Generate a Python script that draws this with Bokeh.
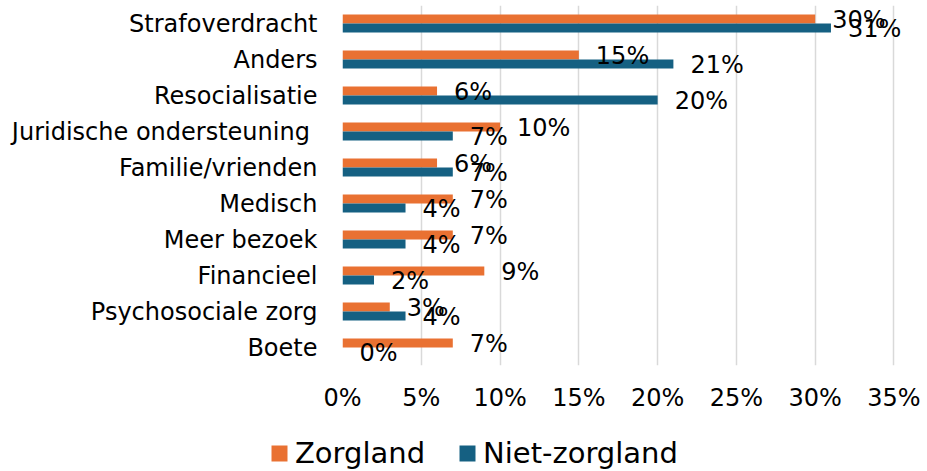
from bokeh.plotting import figure
from bokeh.layouts import column
from bokeh.models import (ColumnDataSource, FactorRange, Range1d, FixedTicker,
                          LabelSet, Legend, LegendItem)
from bokeh.transform import dodge
from bokeh.core.properties import value
from bokeh.embed import file_html
from bokeh.resources import INLINE

# ---- data ----
categories = ["Strafoverdracht", "Anders", "Resocialisatie",
              "Juridische ondersteuning ", "Familie/vrienden", "Medisch",
              "Meer bezoek", "Financieel", "Psychosociale zorg", "Boete"]
zorgland = [30, 15, 6, 10, 6, 7, 7, 9, 3, 7]
niet_zorgland = [31, 21, 20, 7, 7, 4, 4, 2, 4, 0]
x_ticks = [0, 5, 10, 15, 20, 25, 30, 35]
series_names = ["Zorgland", "Niet-zorgland"]

ORANGE = "#E97132"
BLUE = "#156082"
FONT = "DejaVu Sans"

source = ColumnDataSource(dict(
    cat=categories,
    z=zorgland,
    n=niet_zorgland,
    zl=[f"{v}%" for v in zorgland],
    nl=[f"{v}%" for v in niet_zorgland],
))

# ---- main chart ----
p = figure(width=927, height=415,
           y_range=FactorRange(factors=list(reversed(categories))),
           x_range=Range1d(0, 37),
           output_backend="svg", toolbar_location=None,
           min_border_left=342, min_border_right=2,
           min_border_top=5, min_border_bottom=50)

p.hbar(y=dodge("cat", 0.125, range=p.y_range), left=0, right="z",
       height=0.25, source=source, fill_color=ORANGE, line_color=None)
p.hbar(y=dodge("cat", -0.125, range=p.y_range), left=0, right="n",
       height=0.25, source=source, fill_color=BLUE, line_color=None)

for field, lab, dy in (("z", "zl", 0.125), ("n", "nl", -0.125)):
    ls = LabelSet(x=field, y=dodge("cat", dy, range=p.y_range), text=lab,
                  source=source, x_offset=17, y_offset=-1,
                  text_baseline="middle", text_align="left",
                  text_font=value(FONT), text_font_size="24px",
                  text_color="#000000")
    p.add_layout(ls)

p.xaxis.ticker = FixedTicker(ticks=x_ticks)
p.xaxis.major_label_overrides = {t: f"{t}%" for t in x_ticks}
p.xgrid.grid_line_color = "#d9d9d9"
p.xgrid.grid_line_width = 1.5
p.ygrid.grid_line_color = None
p.outline_line_color = None

for ax in (p.xaxis[0], p.yaxis[0]):
    ax.axis_line_color = None
    ax.major_tick_line_color = None
    ax.minor_tick_line_color = None
    ax.major_tick_out = 0
    ax.major_tick_in = 0
    ax.major_label_text_font = FONT
    ax.major_label_text_font_size = "24px"
    ax.major_label_text_color = "#000000"
p.yaxis.major_label_standoff = 25
p.xaxis.major_label_standoff = 18

# ---- legend strip (separate small figure, own frame) ----
pl = figure(width=927, height=56, x_range=Range1d(0, 1), y_range=Range1d(0, 1),
            output_backend="svg", toolbar_location=None,
            min_border_left=0, min_border_right=0,
            min_border_top=0, min_border_bottom=0)
pl.frame_align = False
pl.axis.visible = False
pl.grid.visible = False
pl.outline_line_color = None
# zero-size proxy glyphs, only used for the legend swatches
lz = pl.hbar(y=[0], left=[0], right=[0], height=0, fill_color=ORANGE, line_color=None)
ln = pl.hbar(y=[0], left=[0], right=[0], height=0, fill_color=BLUE, line_color=None)

legend = Legend(items=[LegendItem(label=series_names[0], renderers=[lz]),
                       LegendItem(label=series_names[1], renderers=[ln])],
                location=(269, 1), orientation="horizontal",
                padding=0, margin=0, spacing=32, label_standoff=6,
                glyph_width=20, glyph_height=20,
                label_text_font=FONT, label_text_font_size="29px",
                label_text_color="#000000", label_text_baseline="middle",
                border_line_color=None, background_fill_alpha=0)
pl.add_layout(legend)

layout = column(p, pl, spacing=0)
open("out.html", "w").write(file_html(layout, INLINE))
